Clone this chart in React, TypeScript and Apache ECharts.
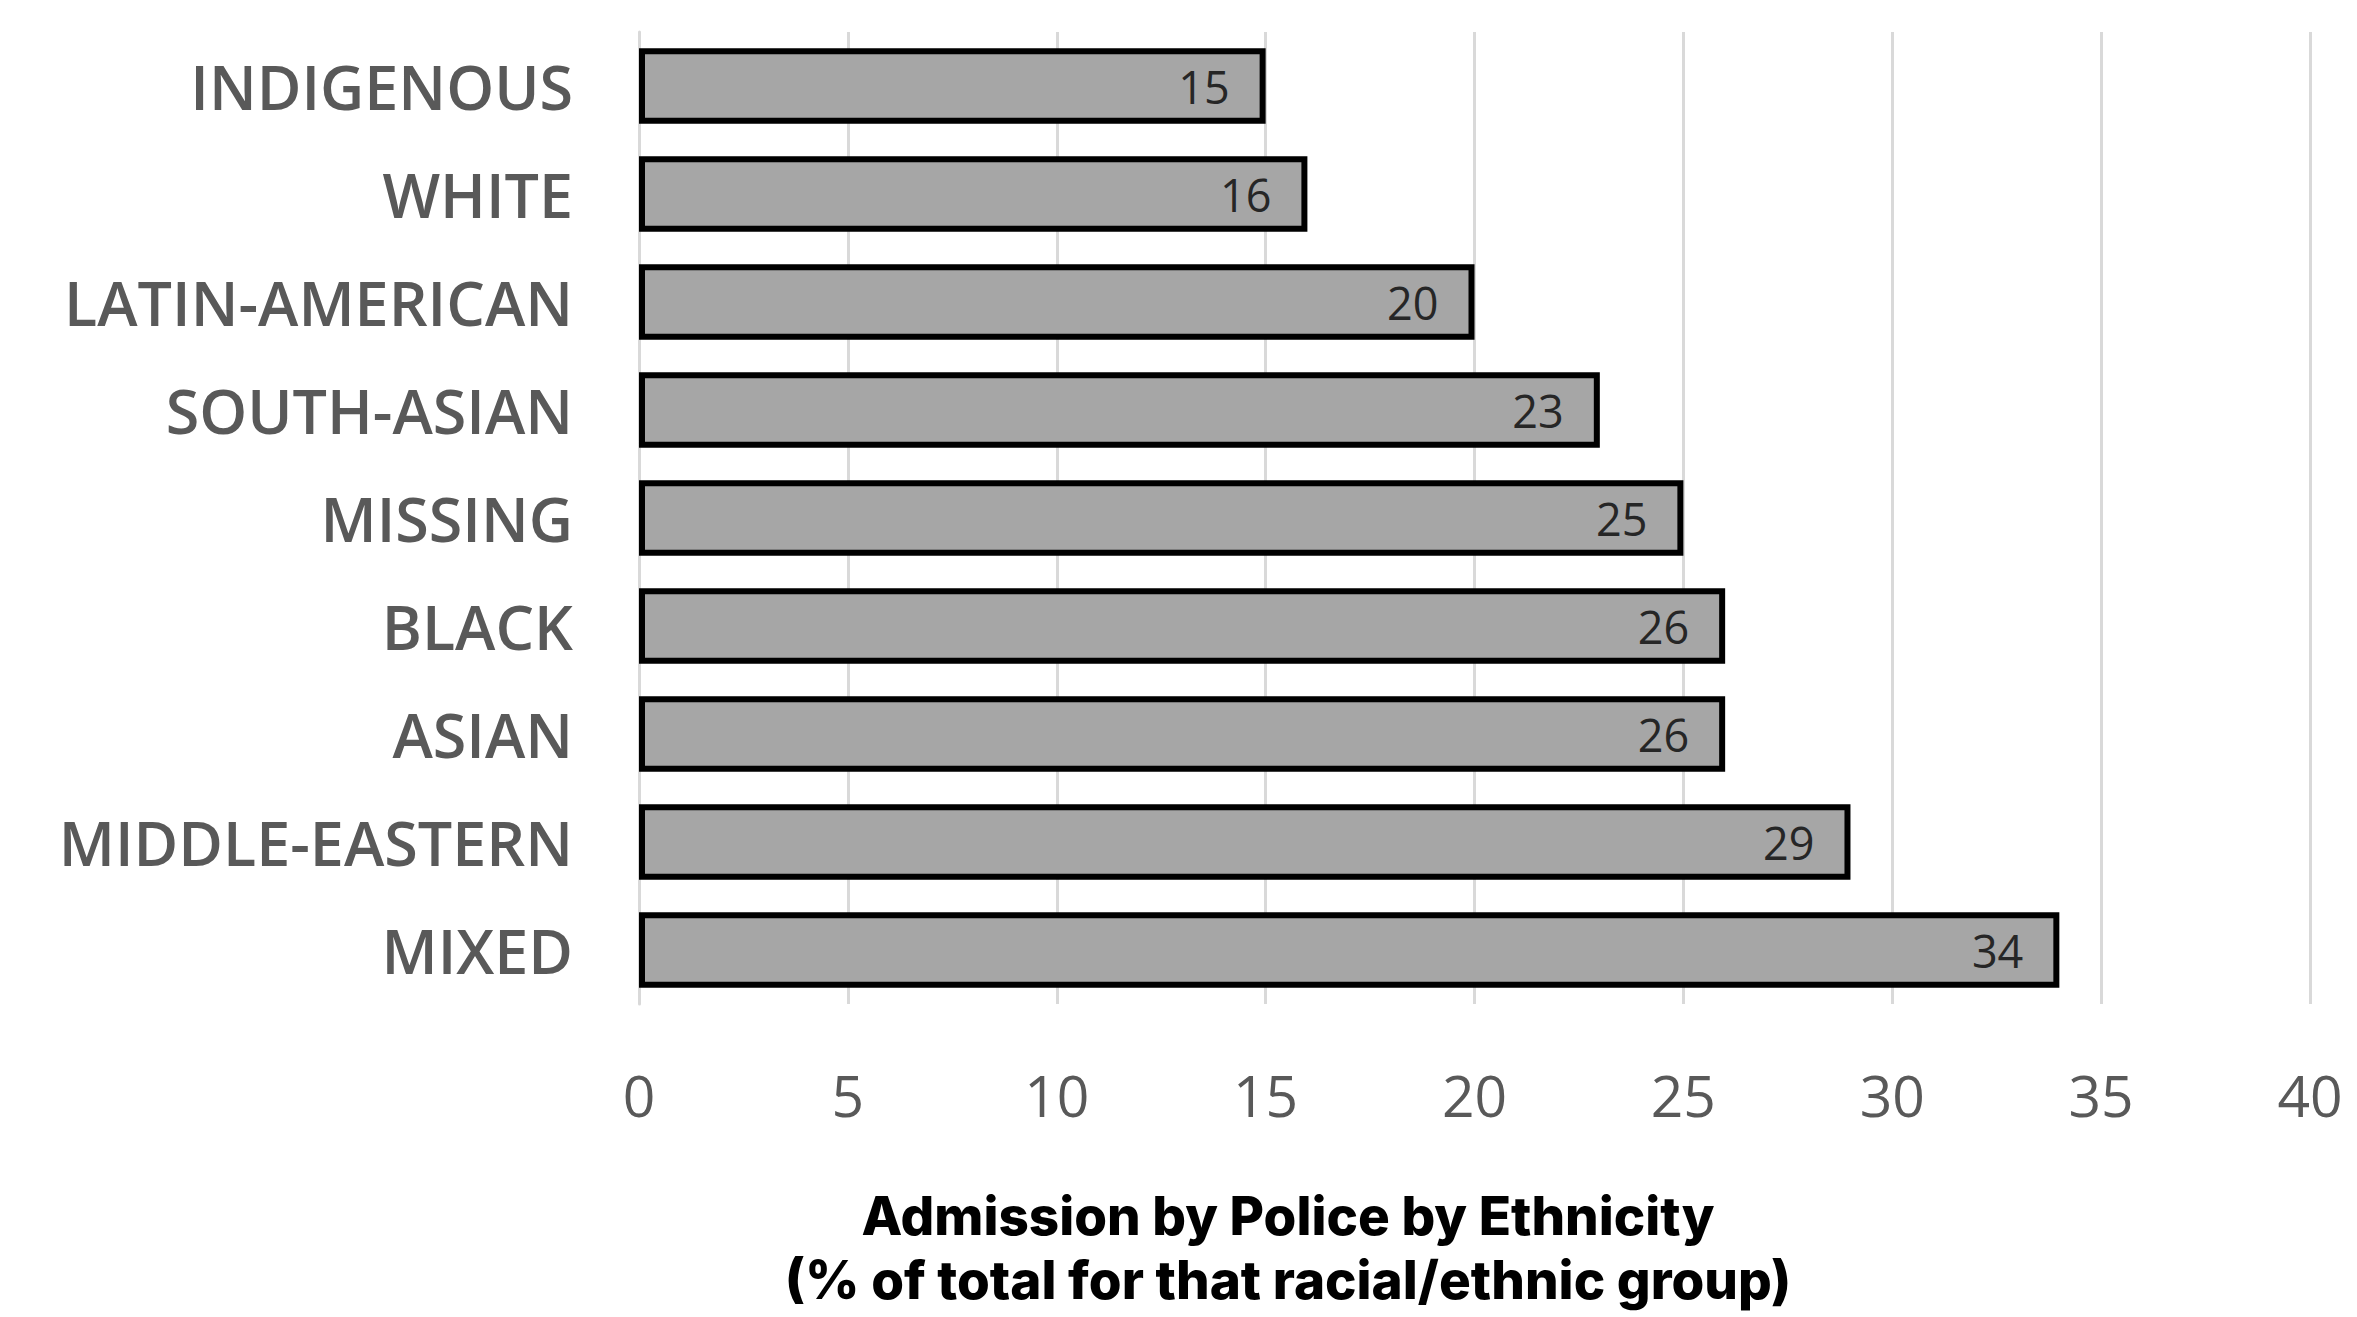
import React, { useEffect, useRef } from "react";
import * as echarts from "echarts";

const categories = [
  "INDIGENOUS",
  "WHITE",
  "LATIN-AMERICAN",
  "SOUTH-ASIAN",
  "MISSING",
  "BLACK",
  "ASIAN",
  "MIDDLE-EASTERN",
  "MIXED",
];
const values = [15, 16, 20, 23, 25, 26, 26, 29, 34];
const titleLines = [
  "Admission by Police by Ethnicity",
  "(% of total for that racial/ethnic group)",
];

export default function App() {
  const ref = useRef<HTMLDivElement>(null);
  useEffect(() => {
    document.body.style.margin = "0";
    const chart = echarts.init(ref.current!, null, { renderer: "svg" });
    chart.setOption({
      animation: false,
      backgroundColor: "#ffffff",
      grid: { left: 639, right: 47, top: 32, bottom: 313, containLabel: false },
      xAxis: {
        type: "value",
        min: 0,
        max: 40,
        interval: 5,
        axisLine: { show: false },
        axisTick: { show: false },
        splitLine: { show: true, lineStyle: { color: "#d9d9d9", width: 3 } },
        axisLabel: {
          color: "#595959",
          fontFamily: "Open Sans",
          fontSize: 57,
          margin: 62,
        },
      },
      yAxis: {
        type: "category",
        data: categories,
        inverse: true,
        axisLine: { show: true, lineStyle: { color: "#d9d9d9", width: 3 } },
        axisTick: { show: false },
        axisLabel: {
          color: "#595959",
          fontFamily: "Open Sans",
          fontWeight: 600,
          fontSize: 61,
          margin: 66,
        },
      },
      series: [
        {
          type: "bar",
          data: values,
          barCategoryGap: "30%",
          itemStyle: { color: "#a6a6a6", borderColor: "#000000", borderWidth: 6 },
          label: {
            show: true,
            position: "insideRight",
            distance: 36,
            color: "#262626",
            fontFamily: "Open Sans",
            fontSize: 45,
          },
        },
      ],
      graphic: titleLines.map((t, i) => ({
        type: "text",
        x: 1288,
        y: 1216 + i * 64,
        style: {
          text: t,
          fill: "#000000",
          font: "800 53px Inter",
          textAlign: "center",
          textVerticalAlign: "middle",
        },
      })),
    });
    return () => chart.dispose();
  }, []);
  return <div ref={ref} style={{ width: 2357, height: 1317 }} />;
}
